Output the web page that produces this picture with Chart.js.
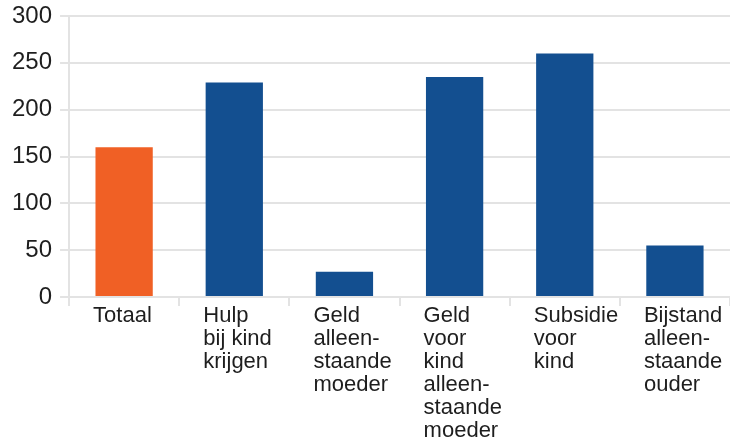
<!DOCTYPE html>
<html>
<head>
<meta charset="utf-8">
<script src="https://cdn.jsdelivr.net/npm/chart.js@4/dist/chart.umd.min.js"></script>
<style>
  html, body { margin: 0; padding: 0; background: #ffffff; overflow: hidden; }
  #wrap { width: 730px; height: 439px; position: relative; }
</style>
</head>
<body>
<div id="wrap"><canvas id="chart"></canvas></div>
<script>
// Categories (multi-line labels) and their values
const categories = [
  ['Totaal'],
  ['Hulp', 'bij kind', 'krijgen'],
  ['Geld', 'alleen-', 'staande', 'moeder'],
  ['Geld', 'voor', 'kind', 'alleen-', 'staande', 'moeder'],
  ['Subsidie', 'voor', 'kind'],
  ['Bijstand', 'alleen-', 'staande', 'ouder']
];
const values = [160, 229, 27, 235, 260, 55];
const yTicks = [0, 50, 100, 150, 200, 250, 300];

const orange = '#f06025';
const blue = '#134f90';
const barColors = values.map((v, i) => i === 0 ? orange : blue);

const gridColor = '#e3e3e3';
const textColor = '#1e1e1e';

new Chart(document.getElementById('chart'), {
  type: 'bar',
  data: {
    labels: categories,
    datasets: [{
      data: values,
      backgroundColor: barColors,
      borderWidth: 0,
      categoryPercentage: 1,
      barPercentage: 0.52
    }]
  },
  options: {
    responsive: true,
    maintainAspectRatio: false,
    animation: false,
    layout: { padding: { left: 4, right: -4, top: 16, bottom: 0 } },
    plugins: {
      legend: { display: false },
      tooltip: { enabled: false }
    },
    scales: {
      x: {
        offset: true,
        grid: {
          offset: true,
          drawOnChartArea: false,
          drawTicks: true,
          tickLength: 9,
          color: gridColor,
          lineWidth: 2
        },
        border: { display: true, color: gridColor, width: 2 },
        ticks: {
          autoSkip: false,
          maxRotation: 0,
          minRotation: 0,
          align: 'start',
          labelOffset: -31,
          padding: -2,
          color: textColor,
          font: { family: '"Liberation Sans", Arial, sans-serif', size: 22, lineHeight: '23px' }
        },
        afterFit(scale) {
          scale.paddingLeft = 0;
          scale.paddingRight = 0;
          scale.height = 142;
        }
      },
      y: {
        min: 0,
        max: 300,
        afterBuildTicks(scale) {
          scale.ticks = yTicks.map(v => ({ value: v }));
        },
        afterFit(scale) {
          scale.paddingTop = 0;
          scale.paddingBottom = 0;
        },
        grid: {
          color: gridColor,
          lineWidth: 2,
          tickLength: 9
        },
        border: { display: true, color: gridColor, width: 2 },
        ticks: {
          padding: 8,
          color: textColor,
          font: { family: '"Liberation Sans", Arial, sans-serif', size: 24 }
        }
      }
    }
  }
});
</script>
</body>
</html>
